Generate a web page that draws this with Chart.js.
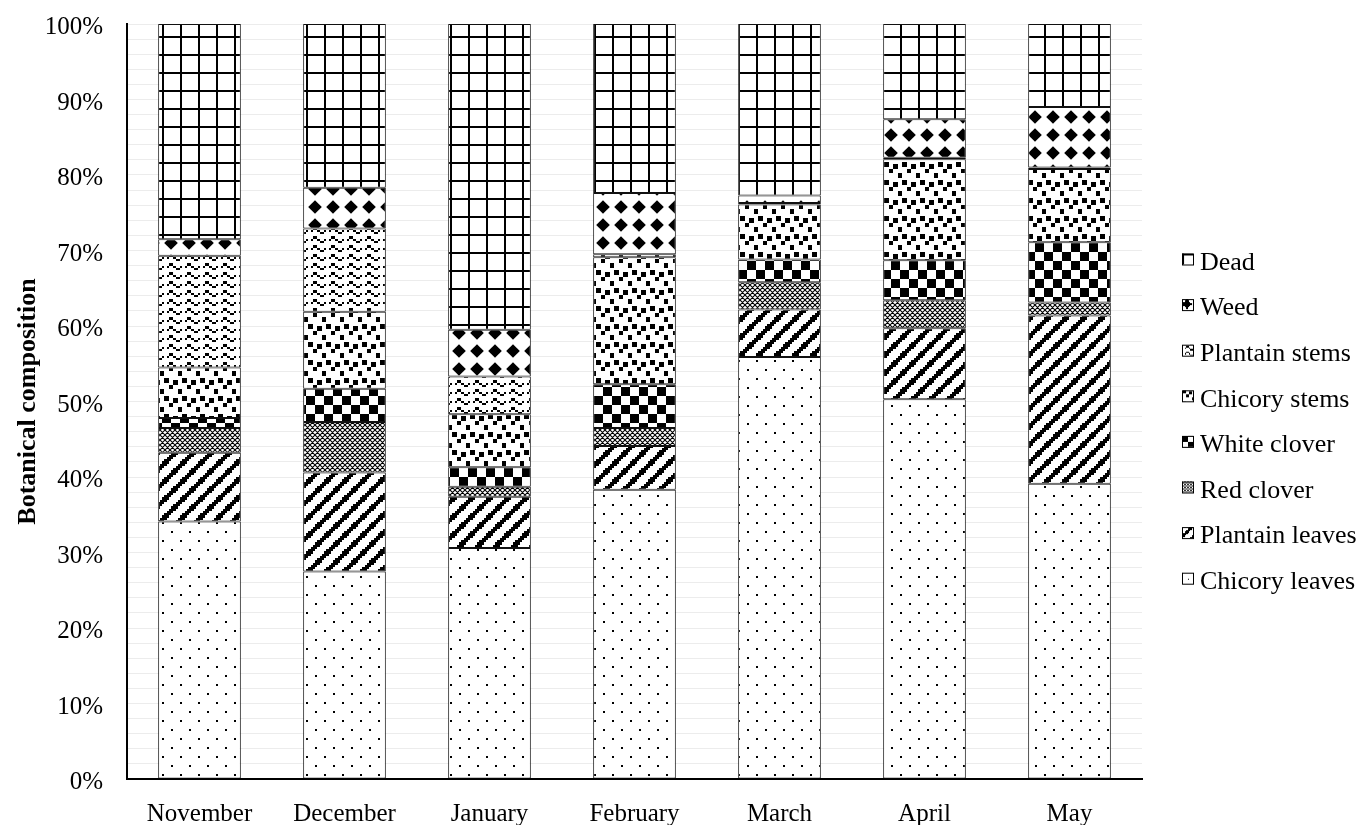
<!DOCTYPE html>
<html><head><meta charset="utf-8">
<script src="https://cdn.jsdelivr.net/npm/chart.js@4.4.1/dist/chart.umd.min.js"></script>
<style>html,body{margin:0;padding:0;background:#fff;} #wrap{width:1359px;height:825px;position:relative;}</style>
</head><body><div id="wrap"><canvas id="c" width="1359" height="825"></canvas></div>
<script>
const months = ['November','December','January','February','March','April','May'];
const chicoryLeaves  = [34.1, 27.5, 30.6, 38.3, 55.9, 50.3, 39.1];
const plantainLeaves = [ 9.1, 13.1,  6.8,  5.8,  6.3,  9.4, 22.3];
const redClover      = [ 3.3,  6.7,  1.3,  2.4,  3.6,  3.7,  1.7];
const whiteClover    = [ 1.3,  4.4,  2.6,  5.8,  3.0,  5.3,  8.0];
const chicoryStems   = [ 6.7, 10.2,  7.0, 16.8,  7.3, 13.4,  9.7];
const plantainStems  = [14.8, 11.0,  5.0,  0.4,  0.2,  0.2,  0.2];
const weed           = [ 2.2,  5.4,  6.2,  8.1,  1.0,  5.1,  8.0];
const dead           = [28.5, 21.7, 40.5, 22.4, 22.7, 12.6, 11.0];
const seriesNames = ['Chicory leaves','Plantain leaves','Red clover','White clover','Chicory stems','Plantain stems','Weed','Dead'];
const yTickStep = 2;
const yLabelStep = 10;

const canvas = document.getElementById('c');
const mainCtx = canvas.getContext('2d');

function bitsPattern(rows, s) {
  const n = rows.length, m = rows[0].length;
  const c = document.createElement('canvas');
  c.width = Math.round(m * s); c.height = Math.round(n * s);
  const g = c.getContext('2d');
  g.fillStyle = '#fff'; g.fillRect(0, 0, c.width, c.height);
  g.fillStyle = '#000';
  for (let r = 0; r < n; r++) for (let k = 0; k < m; k++) {
    if (rows[r][k] === '1') {
      const x0 = Math.round(k * s), x1 = Math.round((k + 1) * s);
      const y0 = Math.round(r * s), y1 = Math.round((r + 1) * s);
      g.fillRect(x0, y0, x1 - x0, y1 - y0);
    }
  }
  return mainCtx.createPattern(c, 'repeat');
}
function diamondPattern(size, half) {
  const c = document.createElement('canvas');
  c.width = size; c.height = size;
  const g = c.getContext('2d');
  g.fillStyle = '#fff'; g.fillRect(0, 0, size, size);
  g.fillStyle = '#000';
  const cx = size / 2, cy = size / 2;
  g.beginPath(); g.moveTo(cx, cy - half); g.lineTo(cx + half, cy); g.lineTo(cx, cy + half); g.lineTo(cx - half, cy); g.closePath(); g.fill();
  return mainCtx.createPattern(c, 'repeat');
}
function meshPattern(size, lw) {
  const c = document.createElement('canvas');
  c.width = size; c.height = size;
  const g = c.getContext('2d');
  g.fillStyle = '#fff'; g.fillRect(0, 0, size, size);
  g.strokeStyle = '#000'; g.lineWidth = lw;
  g.beginPath();
  for (let o = -size; o <= 2 * size; o += size) {
    g.moveTo(o, 0); g.lineTo(o + size, size);
    g.moveTo(o + size, 0); g.lineTo(o, size);
  }
  g.stroke();
  return mainCtx.createPattern(c, 'repeat');
}

const BITS = {
  dots:   ['10000000','00000000','00000000','00000000','00001000','00000000','00000000','00000000'],
  wideUp: ['00000111','00001110','00011100','00111000','01110000','11100000','11000001','10000011'],
  checker:['11110000','11110000','11110000','11110000','00001111','00001111','00001111','00001111'],
  confetti:['01100000','01100110','00000110','00011000','00011000','10000001','10000001','00000000'],
  wave:   ['00000000','00011000','10100100','00000011','00000000','00011000','10100100','00000011'],
  diamond:['00010000','00111000','01111100','11111110','01111100','00111000','00010000','00000000'],
  grid:   ['11111111','10000000','10000000','10000000','10000000','10000000','10000000','10000000']
};
const S = 2.25;
const barPatterns = [
  bitsPattern(BITS.dots, S),
  bitsPattern(BITS.wideUp, S),
  meshPattern(5, 1.1),
  bitsPattern(BITS.checker, S),
  bitsPattern(BITS.confetti, S),
  bitsPattern(BITS.wave, S),
  diamondPattern(18, 6.8),
  bitsPattern(BITS.grid, S)
];
const legendPatterns = [
  bitsPattern(BITS.dots, 1.4),
  bitsPattern(BITS.wideUp, 1.4),
  meshPattern(3, 0.8),
  bitsPattern(BITS.checker, 1.4),
  bitsPattern(BITS.confetti, 1.4),
  bitsPattern(BITS.wave, 1.4),
  bitsPattern(BITS.diamond, 1.4),
  bitsPattern(BITS.grid, 1.6)
];
const seriesData = [chicoryLeaves, plantainLeaves, redClover, whiteClover, chicoryStems, plantainStems, weed, dead];

const datasets = seriesNames.map((name, i) => ({
  label: name,
  data: seriesData[i],
  backgroundColor: barPatterns[i],
  legendPattern: legendPatterns[i],
  borderColor: '#111',
  borderWidth: 1,
  borderSkipped: false,
  barPercentage: 0.57,
  categoryPercentage: 1.0
}));

const legendPlugin = {
  id: 'customLegend',
  afterDraw(chart) {
    const ctx = chart.ctx;
    const ds = chart.data.datasets;
    ctx.save();
    ctx.font = '26px "Liberation Serif"';
    ctx.textBaseline = 'middle';
    ctx.textAlign = 'left';
    for (let i = 0; i < ds.length; i++) {
      const d = ds[ds.length - 1 - i];
      const y = 263 + i * 45.6;
      ctx.save();
      ctx.translate(1182, y - 9.5);
      ctx.fillStyle = d.legendPattern;
      ctx.fillRect(0, 0, 11, 11);
      ctx.strokeStyle = '#000'; ctx.lineWidth = 1;
      ctx.strokeRect(0.5, 0.5, 11, 11);
      ctx.restore();
      ctx.fillStyle = '#000';
      ctx.fillText(d.label, 1200, y);
    }
    ctx.restore();
  }
};

Chart.defaults.font.family = '"Liberation Serif", "Times New Roman", serif';
Chart.defaults.color = '#000';

new Chart(canvas, {
  type: 'bar',
  data: { labels: months, datasets },
  options: {
    responsive: false,
    animation: false,
    devicePixelRatio: 1,
    layout: { padding: { top: 24, right: 217, left: 0, bottom: 0 } },
    plugins: { legend: { display: false }, tooltip: { enabled: false } },
    scales: {
      x: {
        stacked: true,
        grid: { display: false, drawTicks: false },
        border: { display: true, color: '#000', width: 2 },
        ticks: { font: { size: 25 }, padding: 20, color: '#000', maxRotation: 0 },
        afterFit(scale) { scale.height = 46; scale.paddingLeft = 0; scale.paddingRight = 0; }
      },
      y: {
        stacked: true,
        min: 0, max: 100,
        grid: { color: '#ececec', lineWidth: 1, drawTicks: false },
        border: { display: true, color: '#000', width: 2 },
        ticks: {
          stepSize: yTickStep,
          autoSkip: false,
          padding: 24,
          labelOffset: 3.5,
          font: { size: 25 },
          color: '#000',
          callback: (v) => (v % yLabelStep === 0 ? v + '%' : '')
        },
        title: {
          display: true,
          text: 'Botanical composition',
          font: { size: 26, weight: 'bold' },
          color: '#000',
          padding: { top: 13, bottom: 0 }
        },
        afterFit(scale) { scale.width = 127; scale.paddingTop = 0; scale.paddingBottom = 0; }
      }
    }
  },
  plugins: [legendPlugin]
});
</script>
</body></html>
